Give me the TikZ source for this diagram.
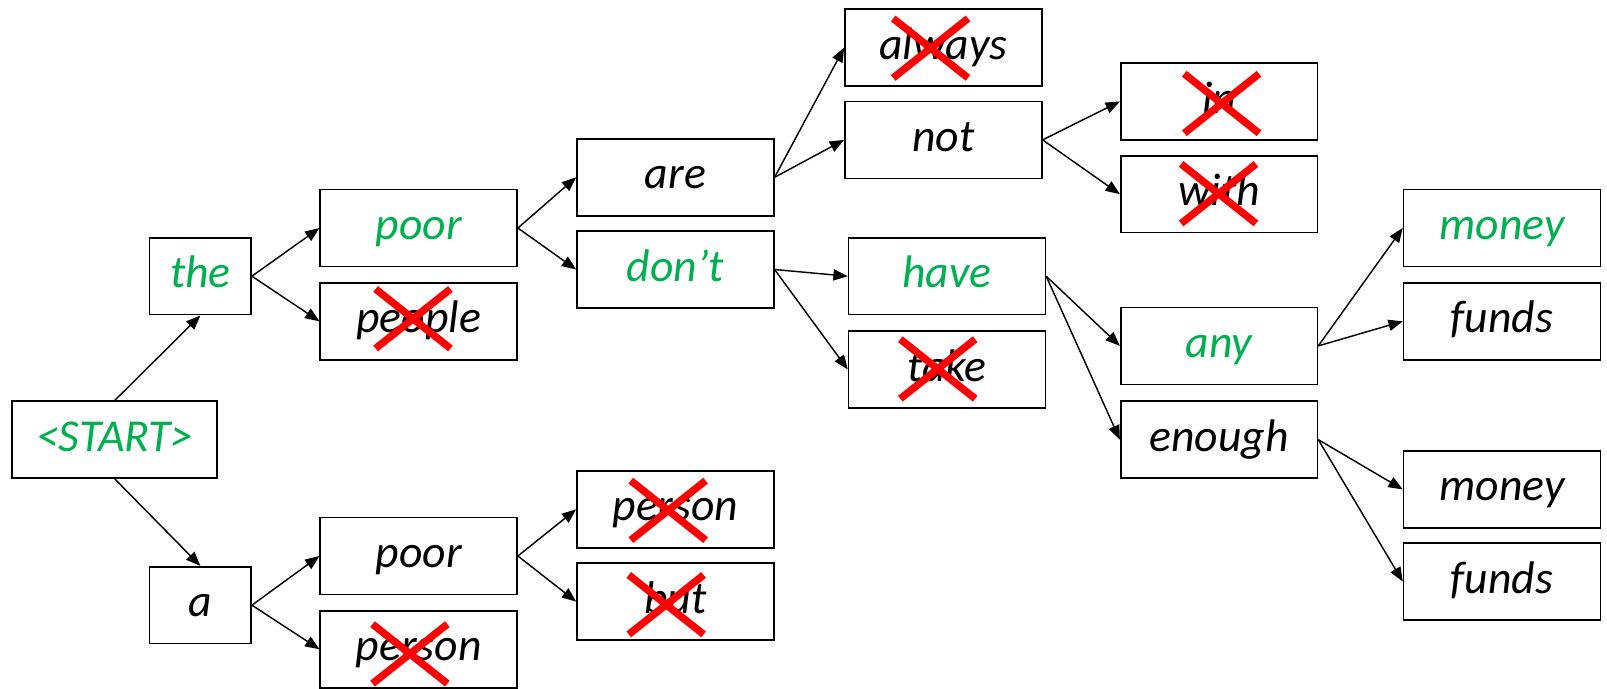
\documentclass[tikz,border=0pt]{standalone}
\usepackage{fontspec}
\setmainfont{Carlito}
\usetikzlibrary{arrows.meta}
\definecolor{keep}{RGB}{0,176,80}

\begin{document}
\begin{tikzpicture}[x=0.5pt,y=-0.5pt,
  word/.style={draw=black, line width=0.8pt, fill=white, inner sep=0pt,
    minimum width=96pt, minimum height=37.5pt,
    font=\fontsize{22.3}{26}\selectfont\itshape, text height=15pt, text depth=3.7pt},
  kept/.style={text=keep},
  link/.style={-{Triangle[length=7pt,width=5.5pt]}, line width=0.7pt},
  nope/.pic={\draw[red, line width=3.6pt] (-36.5,-29) -- (36.5,29) (-36.5,29) -- (36.5,-29);}]
  \useasboundingbox (0,0) rectangle (1568,672);
  % first two columns
  \node[word, kept, minimum width=100pt] (start) at (112,429) {<START>};
  \node[word, kept, minimum width=49.5pt] (the) at (195.5,269.5) {the};
  \node[word, minimum width=49.5pt] (a) at (195.5,590.5) {a};
  \node[word, kept] (poorA) at (408.5,222.5) {poor};
  \node[word] (people) at (408.5,313.5) {people};
  \node[word] (poorB) at (408.5,542.5) {poor};
  \node[word] (personA) at (408.5,633.5) {person};
  % middle
  \node[word] (are) at (659,173) {are};
  \node[word, kept] (dont) at (659,263) {don’t};
  \node[word] (personB) at (659,497) {person};
  \node[word] (but) at (659,587) {but};
  \node[word] (always) at (920.5,46.5) {always};
  \node[word] (not) at (920.5,136.5) {not};
  \node[word, kept] (have) at (924,269.5) {have};
  \node[word] (take) at (924,360.5) {take};
  % right side
  \node[word] (in) at (1189.5,99) {in};
  \node[word] (with) at (1189.5,189.5) {with};
  \node[word, kept] (any) at (1189.5,337.5) {any};
  \node[word] (enough) at (1189.5,429) {enough};
  \node[word, kept] (moneyA) at (1465.5,222.5) {money};
  \node[word] (fundsA) at (1465.5,313.5) {funds};
  \node[word] (moneyB) at (1465.5,477.5) {money};
  \node[word] (fundsB) at (1465.5,567.5) {funds};

  \draw[link] (start.north) -- (the.south);
  \draw[link] (start.south) -- (a.north);
  \draw[link] (the.east) -- (poorA.west);
  \draw[link] (the.east) -- (people.west);
  \draw[link] (a.east) -- (poorB.west);
  \draw[link] (a.east) -- (personA.west);
  \draw[link] (poorA.east) -- (are.west);
  \draw[link] (poorA.east) -- (dont.west);
  \draw[link] (poorB.east) -- (personB.west);
  \draw[link] (poorB.east) -- (but.west);
  \draw[link] (are.east) -- (always.west);
  \draw[link] (are.east) -- (not.west);
  \draw[link] (dont.east) -- (have.west);
  \draw[link] (dont.east) -- (take.west);
  \draw[link] (not.east) -- (in.west);
  \draw[link] (not.east) -- (with.west);
  \draw[link] (have.east) -- (any.west);
  \draw[link] (have.east) -- (enough.west);
  \draw[link] (any.east) -- (moneyA.west);
  \draw[link] (any.east) -- (fundsA.west);
  \draw[link] (enough.east) -- (moneyB.west);
  \draw[link] (enough.east) -- (fundsB.west);

  % pruned words
  \pic at ([shift={(-5.5,-2.5)}]people.center) {nope};
  \pic at ([shift={(-8.5,4.5)}]personA.center) {nope};
  \pic at ([shift={(-7,1)}]personB.center) {nope};
  \pic at ([shift={(-9,3)}]but.center) {nope};
  \pic at ([shift={(-12.5,0.5)}]always.center) {nope};
  \pic at ([shift={(-9,-0.5)}]take.center) {nope};
  \pic at ([shift={(2.5,2)}]in.center) {nope};
  \pic at ([shift={(-0.5,-0.5)}]with.center) {nope};
\end{tikzpicture}
\end{document}
